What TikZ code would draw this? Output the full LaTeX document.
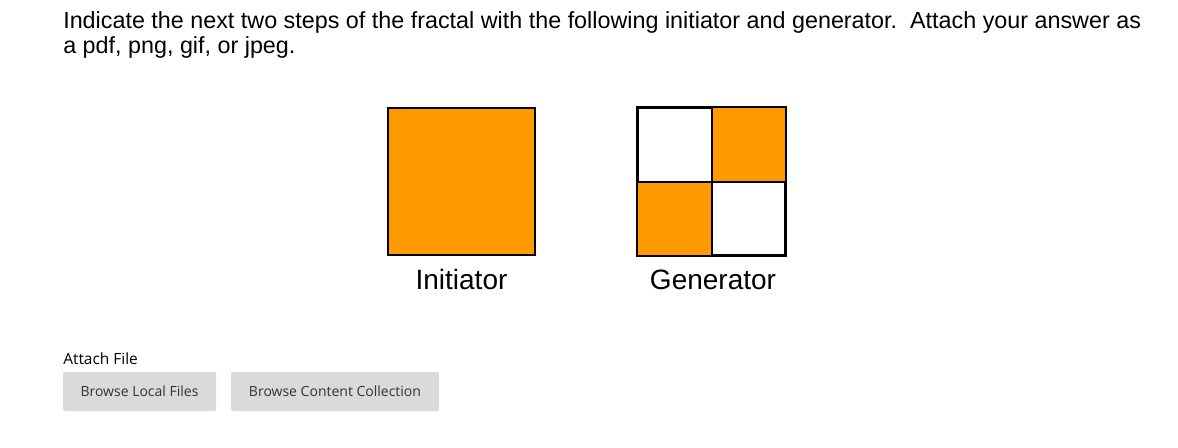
\documentclass[tikz,border=0pt]{standalone}
\usepackage{fontspec}
\setmainfont{Liberation Sans}
\newfontfamily\uifont{Open Sans}
\definecolor{fractal orange}{HTML}{FF9900}
\definecolor{button gray}{HTML}{DADADA}
\definecolor{button text}{HTML}{333333}
\begin{document}
\begin{tikzpicture}[x=0.75pt,y=-0.75pt,
    square/.style={draw,line width=1.5pt,minimum size=110.25pt,inner sep=0pt},
    cell line/.style={line width=1.5pt},
    question/.style={anchor=base west,inner sep=0pt,font=\fontsize{17.5}{20}\selectfont},
    caption/.style={anchor=base,font=\fontsize{21}{24}\selectfont},
    button/.style={fill=button gray,rounded corners=1.5pt,minimum height=29.25pt,
        inner sep=0pt,text=button text,font=\uifont\fontsize{10.5}{12}\selectfont},]
    \useasboundingbox (0,0) rectangle (1178,447);
    % question
    \node[question] (question line1) at (63,28)
        {Indicate the next two steps of the fractal with the following initiator and generator.\ \ Attach your answer as};
    \node[question] (question line2) at (63,53.5) {a pdf, png, gif, or jpeg.};
    % initiator and generator
    \node[square,fill=fractal orange] (init) at (461.5,181.5) {};
    \node[square,fill=white] (gen) at (711.5,181.5) {};
    \fill[fractal orange] (gen.north) rectangle (gen.east);
    \fill[fractal orange] (gen.west) rectangle (gen.south);
    \draw[cell line] (gen.north) -- (gen.south) (gen.west) -- (gen.east);
    \draw[cell line] (gen.north west) rectangle (gen.south east);
    \node[caption] (init label) at (461.5,289) {Initiator};
    \node[caption] (gen label) at (713,289) {Generator};
    % attach file
    \node[anchor=base west,inner sep=0pt,font=\uifont\fontsize{11.6}{14}\selectfont] (attach) at (63,364) {Attach File};
    \node[button,minimum width=114.75pt] (browse local) at (139.5,391.5) {Browse Local Files};
    \node[button,minimum width=156pt] (browse content) at (335,391.5) {Browse Content Collection};
\end{tikzpicture}
\end{document}
